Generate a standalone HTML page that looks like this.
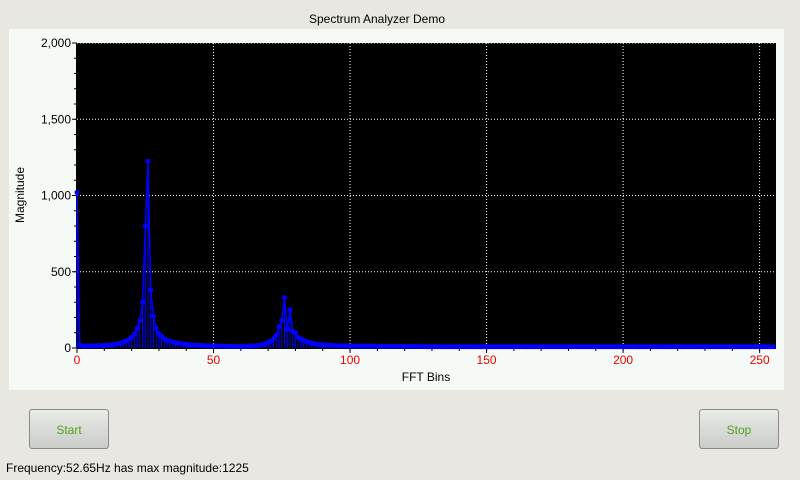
<!DOCTYPE html>
<html><head><meta charset="utf-8"><style>
body{margin:0;width:800px;height:480px;background:#e8e7e1;font-family:"Liberation Sans",sans-serif;overflow:hidden;position:relative}
.btn{position:absolute;width:80px;height:40px;border:1px solid #8a8a86;border-radius:3px;background:linear-gradient(#e9ebe7,#c9ccc8);color:#4ea21a;font-size:12px;line-height:40px;text-align:center;box-sizing:border-box}
</style></head><body>
<svg width="800" height="480" style="position:absolute;left:0;top:0">
<text x="377" y="23" font-size="12" text-anchor="middle">Spectrum Analyzer Demo</text>
<rect x="9" y="29" width="775" height="361" fill="#f6faf6"/>
<rect x="77" y="43" width="699" height="305" fill="#000"/>
<g id="grid"></g><g id="axes"></g><g id="series"></g>
<text x="426" y="381" font-size="12" text-anchor="middle">FFT Bins</text>
<text transform="translate(24,195) rotate(-90)" font-size="12" text-anchor="middle">Magnitude</text>
</svg>
<div class="btn" style="left:29px;top:409px">Start</div>
<div class="btn" style="left:699px;top:409px">Stop</div>
<div style="position:absolute;left:6px;top:461px;font-size:12px">Frequency:52.65Hz has max magnitude:1225</div>
<script>
const xTicks=[0,50,100,150,200,250];
const yTicks=[0,500,1000,1500,2000];
const yTickLabels=["0","500","1,000","1,500","2,000"];
const magnitudes=[
1020,20,15,12,14,12,15,13,16,15,
18,17,20,22,25,28,32,38,45,55,
70,90,130,180,300,800,1225,380,210,130,
95,75,60,50,45,40,35,32,28,26,
24,22,20,19,18,17,16,15,14,14,
13,13,12,12,12,11,11,10,10,10,
10,10,11,12,13,14,16,18,22,28,
35,45,60,85,140,180,330,120,250,110,
100,70,60,50,42,36,32,28,25,22,
20,19,18,17,16,15,15,14,14,13,
12,12,12,12,12,12,12,12,12,12,
11,11,11,11,11,11,11,11,11,11,
10,10,10,10,10,10,10,10,
8,8,8,8,8,8,8,8,8,8,8,8,8,8,8,8,8,8,8,8,8,8,8,8,8,8,8,8,8,8,8,8,
8,8,8,8,8,8,8,8,8,8,8,8,8,8,8,8,8,8,8,8,8,8,8,8,8,8,8,8,8,8,8,8,
8,8,8,8,8,8,8,8,8,8,8,8,8,8,8,8,8,8,8,8,8,8,8,8,8,8,8,8,8,8,8,8,
8,8,8,8,8,8,8,8,8,8,8,8,8,8,8,8,8,8,8,8,8,8,8,8,8,8,8,8,8,8,8,8];
const NS="http://www.w3.org/2000/svg";
const X0=77,X1=776,Y0=348,Y1=43,XMAX=256,YMAX=2000;
const xs=v=>X0+v/XMAX*(X1-X0), ys=v=>Y0-v/YMAX*(Y0-Y1);
function mk(t,a,p){const e=document.createElementNS(NS,t);for(const k in a)e.setAttribute(k,a[k]);p.appendChild(e);return e;}
const grid=document.getElementById('grid'),axes=document.getElementById('axes'),ser=document.getElementById('series');
xTicks.forEach(v=>{
 if(v>0){const g=mk('line',{x1:xs(v),x2:xs(v),y1:Y1,y2:Y0,stroke:'#fff','stroke-dasharray':'1,2'},grid);
 
 }
 const t=mk('text',{x:xs(v),y:Y0+16,'font-size':12,fill:'#e00','text-anchor':'middle'},axes);t.textContent=v;
 
 
 mk('line',{x1:xs(v),x2:xs(v),y1:Y0,y2:Y0+5,stroke:'#000'},axes);
});
for(let v=10;v<XMAX;v+=10)mk('line',{x1:xs(v),x2:xs(v),y1:Y0,y2:Y0+3,stroke:'#000'},axes);
yTicks.forEach((v,i)=>{
 if(v>0){const g=mk('line',{x1:X0,x2:X1,y1:ys(v),y2:ys(v),stroke:'#fff','stroke-dasharray':'1,2'},grid);
 
 }
 const t=mk('text',{x:X0-6,y:ys(v)+4,'font-size':12,'text-anchor':'end'},axes);t.textContent=yTickLabels[i];
 
 
 mk('line',{x1:X0-5,x2:X0,y1:ys(v),y2:ys(v),stroke:'#000'},axes);
});
for(let v=100;v<YMAX;v+=100)mk('line',{x1:X0-3,x2:X0,y1:ys(v),y2:ys(v),stroke:'#000'},axes);
mk('line',{x1:X0,x2:X1,y1:Y0+0.5,y2:Y0+0.5,stroke:'#000'},axes);
mk('line',{x1:X0-0.5,x2:X0-0.5,y1:Y1,y2:Y0,stroke:'#000'},axes);
let pts=magnitudes.map((m,i)=>xs(i).toFixed(1)+','+ys(m).toFixed(1)).join(' ');
const pl=mk('polyline',{points:pts,fill:'none',stroke:'#0000ff','stroke-width':1.5},ser);


magnitudes.forEach((m,i)=>{
 mk('line',{x1:xs(i),x2:xs(i),y1:Y0,y2:ys(m),stroke:'#0000ff','stroke-width':1},ser);
 const c=mk('circle',{cx:xs(i),cy:ys(m),r:2.5,fill:'#0000ff'},ser);
 
 
});
</script>
</body></html>
